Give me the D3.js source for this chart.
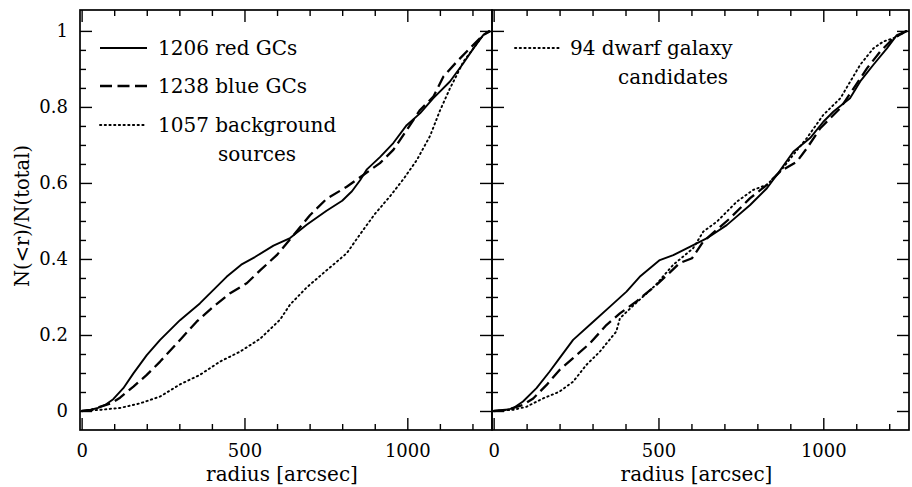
<!DOCTYPE html>
<html>
<head>
<meta charset="utf-8">
<script src="https://cdn.jsdelivr.net/npm/d3@7"></script>
<style>
  body { margin: 0; background: #fff; }
  svg { display: block; }
</style>
</head>
<body>
<svg id="chart" width="912" height="487"></svg>
<script>
// ---------------- data ----------------
const xMajorTicks = [0, 500, 1000];
const xMinorTicks = [100, 200, 300, 400, 600, 700, 800, 900, 1100, 1200];
const yMajorTicks = [0, 0.2, 0.4, 0.6, 0.8, 1];
const yMinorTicks = [0.05, 0.1, 0.15, 0.25, 0.3, 0.35, 0.45, 0.5, 0.55, 0.65, 0.7, 0.75, 0.85, 0.9, 0.95];
const xDomain = [-5, 1260];
const yDomain = [-0.05, 1.055];

// left panel
const redGCs = [[0,0],[26,0.003],[50,0.008],[72,0.016],[97,0.031],[128,0.06],[159,0.099],[200,0.147],[241,0.187],[302,0.239],[363,0.283],[404,0.318],[445,0.353],[490,0.385],[532,0.405],[589,0.435],[640,0.455],[691,0.49],[752,0.527],[800,0.553],[830,0.578],[855,0.607],[875,0.635],[916,0.668],[957,0.705],[998,0.752],[1039,0.783],[1080,0.823],[1131,0.867],[1172,0.915],[1203,0.954],[1233,0.989],[1252,1.0]];
const blueGCs = [[0,0],[30,0.003],[56,0.011],[90,0.02],[118,0.035],[159,0.064],[200,0.095],[241,0.13],[302,0.187],[353,0.235],[404,0.274],[456,0.31],[507,0.336],[548,0.37],[599,0.41],[650,0.462],[701,0.515],[752,0.558],[814,0.59],[865,0.621],[916,0.652],[957,0.687],[998,0.739],[1039,0.792],[1080,0.827],[1111,0.88],[1152,0.919],[1192,0.954],[1233,0.989],[1255,1.0]];
const background = [[0,0],[56,0.003],[118,0.008],[179,0.02],[241,0.038],[302,0.07],[363,0.095],[425,0.13],[486,0.156],[548,0.19],[609,0.24],[640,0.28],[691,0.325],[752,0.37],[814,0.415],[855,0.465],[900,0.518],[947,0.565],[988,0.61],[1029,0.66],[1070,0.724],[1100,0.79],[1131,0.849],[1152,0.884],[1172,0.919],[1203,0.954],[1233,0.989],[1255,1.0]];

// right panel
const rightSolid = [[0,0],[30,0.002],[59,0.007],[89,0.025],[130,0.06],[170,0.104],[200,0.139],[241,0.187],[302,0.235],[352,0.274],[403,0.314],[443,0.353],[504,0.397],[545,0.41],[595,0.432],[646,0.454],[707,0.489],[778,0.542],[829,0.586],[859,0.621],[909,0.682],[960,0.718],[1000,0.761],[1031,0.788],[1081,0.823],[1112,0.867],[1152,0.911],[1193,0.954],[1223,0.989],[1253,1.0]];
const rightDashed = [[0,0],[40,0.003],[89,0.016],[120,0.033],[160,0.068],[200,0.108],[241,0.139],[292,0.178],[342,0.226],[383,0.257],[433,0.288],[494,0.332],[534,0.364],[564,0.389],[602,0.402],[636,0.446],[717,0.507],[778,0.56],[829,0.595],[869,0.63],[920,0.656],[950,0.691],[991,0.744],[1052,0.797],[1092,0.849],[1133,0.902],[1173,0.946],[1213,0.981],[1253,1.0]];
const dwarfGalaxies = [[0,0],[59,0.003],[99,0.011],[150,0.033],[200,0.051],[241,0.077],[281,0.121],[322,0.156],[372,0.209],[383,0.244],[433,0.285],[490,0.33],[544,0.384],[605,0.428],[636,0.472],[677,0.498],[738,0.551],[788,0.582],[829,0.595],[869,0.63],[909,0.674],[950,0.718],[1000,0.779],[1052,0.823],[1082,0.867],[1112,0.911],[1152,0.954],[1182,0.972],[1213,0.981],[1253,1.0]];

const leftLegend = ["1206 red GCs", "1238 blue GCs", "1057 background", "sources"];
const rightLegend = ["94 dwarf galaxy", "candidates"];
const xLabel = "radius [arcsec]";
const yLabel = "N(<r)/N(total)";

// ---------------- drawing ----------------
const FONT = "'DejaVu Serif', 'TeX Gyre Schola', serif";
const svg = d3.select("#chart");
const plotTop = 10, plotBottom = 430;
const y = d3.scaleLinear().domain(yDomain).range([plotBottom, plotTop]);

const styles = {
  solid: { dash: null, width: 1.9 },
  dashed: { dash: "12,5.5", width: 2.3 },
  dotted: { dash: "1.3,3.4", width: 1.9 }
};

function label(sel, size) {
  return sel.attr("font-family", null).style("font-family", FONT).style("font-size", size + "px").attr("fill", "#000");
}

function drawPanel(x0, x1, series, showYLabels) {
  const x = d3.scaleLinear().domain(xDomain).range([x0, x1]);
  const g = svg.append("g");

  const noDomain = s => s.selectAll(".domain").remove();
  // bottom ticks
  g.append("g").attr("transform", `translate(0,${plotBottom})`)
    .call(d3.axisBottom(x).tickValues(xMinorTicks).tickSize(-6).tickFormat(""))
    .call(noDomain);
  g.append("g").attr("transform", `translate(0,${plotBottom})`)
    .call(d3.axisBottom(x).tickValues(xMajorTicks).tickSize(-12).tickPadding(14).tickFormat(d3.format("d")))
    .call(noDomain)
    .call(s => label(s.attr("font-family", null).selectAll("text"), 18));
  // top ticks
  g.append("g").attr("transform", `translate(0,${plotTop})`)
    .call(d3.axisTop(x).tickValues(xMinorTicks).tickSize(-6).tickFormat(""))
    .call(noDomain);
  g.append("g").attr("transform", `translate(0,${plotTop})`)
    .call(d3.axisTop(x).tickValues(xMajorTicks).tickSize(-12).tickFormat(""))
    .call(noDomain);
  // left ticks
  g.append("g").attr("transform", `translate(${x0},0)`)
    .call(d3.axisLeft(y).tickValues(yMinorTicks).tickSize(-6).tickFormat(""))
    .call(noDomain);
  g.append("g").attr("transform", `translate(${x0},0)`)
    .call(d3.axisLeft(y).tickValues(yMajorTicks).tickSize(-12).tickPadding(12)
      .tickFormat(showYLabels ? (d => String(+d.toFixed(1))) : ""))
    .call(noDomain)
    .call(s => label(s.attr("font-family", null).selectAll("text"), 18));
  // right ticks
  g.append("g").attr("transform", `translate(${x1},0)`)
    .call(d3.axisRight(y).tickValues(yMinorTicks).tickSize(-6).tickFormat(""))
    .call(noDomain);
  g.append("g").attr("transform", `translate(${x1},0)`)
    .call(d3.axisRight(y).tickValues(yMajorTicks).tickSize(-12).tickFormat(""))
    .call(noDomain);

  g.selectAll(".tick line").attr("stroke", "#000").attr("stroke-width", 1.4);

  // frame
  g.append("rect").attr("x", x0).attr("y", plotTop).attr("width", x1 - x0).attr("height", plotBottom - plotTop)
    .attr("fill", "none").attr("stroke", "#000").attr("stroke-width", 1.7);

  // curves
  const line = d3.line().x(d => x(d[0])).y(d => y(d[1]));
  series.forEach(s => {
    const st = styles[s.style];
    g.append("path").datum(s.data).attr("d", line)
      .attr("fill", "none").attr("stroke", "#000")
      .attr("stroke-width", st.width)
      .attr("stroke-dasharray", st.dash)
      .attr("stroke-linejoin", "round")
      .attr("stroke-linecap", s.style === "dotted" ? "round" : "butt");
  });

  // x label
  label(g.append("text").attr("x", (x0 + x1) / 2 - 4).attr("y", 481)
    .attr("text-anchor", "middle"), 20).text(xLabel);
  return g;
}

drawPanel(80, 492, [
  { data: background, style: "dotted" },
  { data: blueGCs, style: "dashed" },
  { data: redGCs, style: "solid" }
], true);

drawPanel(492, 909, [
  { data: dwarfGalaxies, style: "dotted" },
  { data: rightDashed, style: "dashed" },
  { data: rightSolid, style: "solid" }
], false);

// legends
function legendLine(x1, x2, yy, style) {
  const st = styles[style];
  svg.append("line").attr("x1", x1).attr("x2", x2).attr("y1", yy).attr("y2", yy)
    .attr("stroke", "#000").attr("stroke-width", st.width)
    .attr("stroke-dasharray", st.dash)
    .attr("stroke-linecap", style === "dotted" ? "round" : "butt");
}
function legendText(x, yy, t) {
  label(svg.append("text").attr("x", x).attr("y", yy), 20).text(t);
}
legendLine(100, 147, 48, "solid");
legendLine(100, 150, 86, "dashed");
legendLine(100, 147, 125, "dotted");
legendText(158, 55, leftLegend[0]);
legendText(158, 93, leftLegend[1]);
legendText(158, 132, leftLegend[2]);
legendText(218, 161, leftLegend[3]);

legendLine(515, 560, 48, "dotted");
legendText(570, 55, rightLegend[0]);
legendText(618, 84, rightLegend[1]);

// y label
label(svg.append("text").attr("transform", "translate(29,216) rotate(-90)")
  .attr("text-anchor", "middle"), 19.5).text(yLabel);
</script>
</body>
</html>
